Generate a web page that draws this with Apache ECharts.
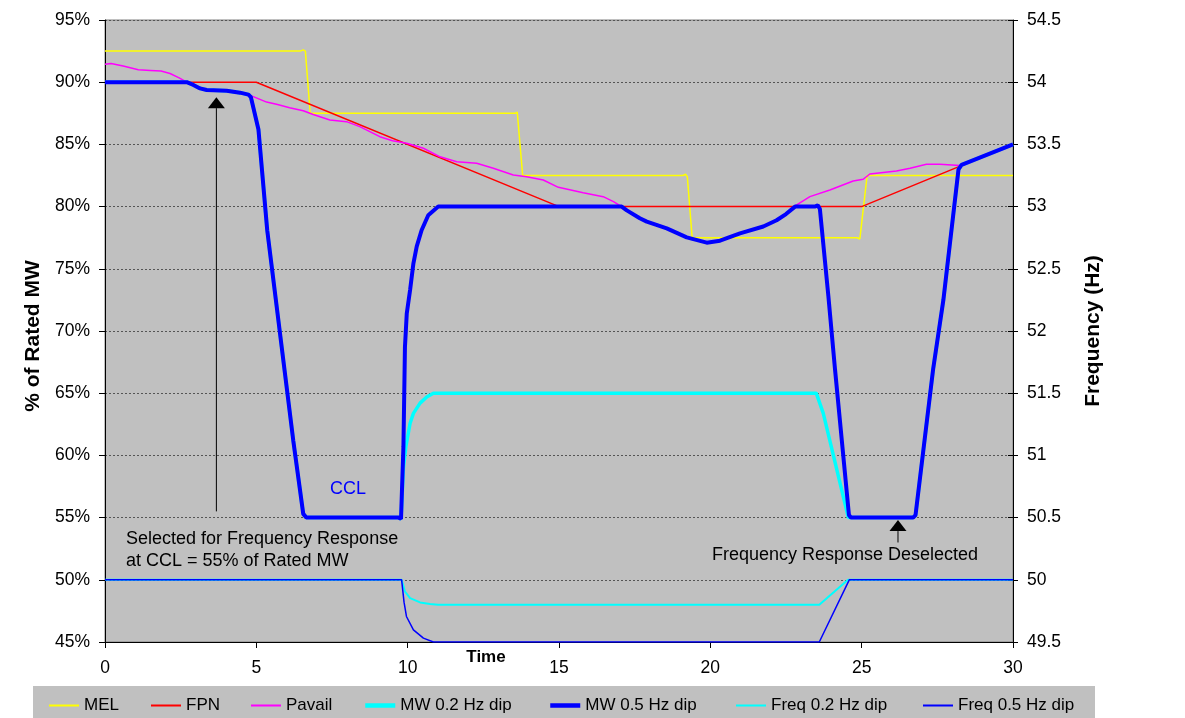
<!DOCTYPE html>
<html>
<head>
<meta charset="utf-8">
<script src="https://cdn.jsdelivr.net/npm/echarts@6/dist/echarts.min.js"></script>
<style>
  html, body { margin: 0; padding: 0; background: #ffffff; }
  #chart { width: 1185px; height: 718px; }
</style>
</head>
<body>
<div id="chart"></div>
<script>
// Unit response to a frequency event: output in % of rated MW (left axis),
// system frequency in Hz (right axis), against time.

const seriesNames = ['MEL', 'FPN', 'Pavail', 'MW 0.2 Hz dip', 'MW 0.5 Hz dip', 'Freq 0.2 Hz dip', 'Freq 0.5 Hz dip'];

const pctTicks = [45, 50, 55, 60, 65, 70, 75, 80, 85, 90, 95];
const hzTicks = [49.5, 50, 50.5, 51, 51.5, 52, 52.5, 53, 53.5, 54, 54.5];
const timeTicks = [0, 5, 10, 15, 20, 25, 30];

// [time, % of rated MW]
const mel = [
  [0, 92.5], [6.45, 92.5], [6.55, 92.6], [6.62, 92.5], [6.78, 87.5],
  [13.55, 87.5], [13.62, 87.6], [13.68, 87.5], [13.8, 82.5],
  [19.1, 82.5], [19.18, 82.6], [19.24, 82.4], [19.4, 77.5],
  [24.85, 77.5], [24.94, 77.4], [25.0, 77.5], [25.18, 82.5], [30, 82.5]
];

const fpn = [[0, 90], [5, 90], [15, 80], [25, 80], [30, 85]];

const pavail = [
  [0, 91.45], [0.2, 91.5], [0.6, 91.3], [1.1, 91.0], [1.5, 90.95], [1.85, 90.9],
  [2.15, 90.7], [2.45, 90.35], [2.7, 90.0], [2.92, 89.78], [3.14, 89.5], [3.36, 89.37],
  [4.02, 89.32], [4.46, 89.16], [4.74, 89.0], [4.9, 88.84], [5.34, 88.4], [5.7, 88.2],
  [6.1, 87.95], [6.55, 87.7], [6.88, 87.4], [7.43, 86.96], [7.98, 86.83], [8.42, 86.43],
  [9.08, 85.62], [9.5, 85.3], [9.97, 85.09], [10.52, 84.69], [11.07, 84.0], [11.62, 83.6],
  [12.28, 83.48], [12.83, 83.08], [13.49, 82.54], [13.93, 82.4], [14.48, 82.14],
  [14.98, 81.55], [15.8, 81.12], [16.46, 80.8], [16.8, 80.4], [17.07, 80.0],
  [17.24, 79.7], [17.67, 79.06], [17.9, 78.79], [18.56, 78.25], [19.22, 77.53],
  [19.88, 77.1], [20.32, 77.26], [20.98, 77.85], [21.75, 78.4], [22.19, 78.9],
  [22.5, 79.4], [22.8, 80.05], [23.29, 80.8], [23.95, 81.33], [24.72, 82.06],
  [25.05, 82.2], [25.27, 82.62], [26.15, 82.86], [26.6, 83.08], [27.14, 83.4],
  [27.58, 83.4], [28.25, 83.3], [30, 85]
];

const mw05 = [
  [0, 90], [2.7, 90], [2.92, 89.78], [3.14, 89.5], [3.36, 89.37], [4.02, 89.32],
  [4.46, 89.16], [4.74, 89.0], [4.82, 88.8], [5.07, 86.2], [5.36, 78.1], [6.22, 61.2],
  [6.55, 55.3], [6.65, 55.0], [9.7, 55.0], [9.78, 54.9], [9.86, 60.7], [9.91, 68.7],
  [9.97, 71.4], [10.08, 73.3], [10.19, 75.44], [10.3, 76.8], [10.46, 78.1], [10.68, 79.3],
  [11.01, 80.0], [17.07, 80.0], [17.24, 79.7], [17.67, 79.06], [17.9, 78.79],
  [18.56, 78.25], [19.22, 77.53], [19.88, 77.1], [20.32, 77.26], [20.98, 77.85],
  [21.75, 78.4], [22.19, 78.9], [22.5, 79.4], [22.8, 80.0], [23.45, 80.0], [23.55, 80.1],
  [23.62, 79.8], [23.9, 72.8], [24.12, 66.9], [24.58, 55.2], [24.65, 55.0], [26.7, 55.0],
  [26.78, 55.2], [27.36, 66.9], [27.7, 72.5], [28.2, 83.0], [28.3, 83.35], [30, 85]
];

const mw02 = [
  [0, 90], [2.7, 90], [2.92, 89.78], [3.14, 89.5], [3.36, 89.37], [4.02, 89.32],
  [4.46, 89.16], [4.74, 89.0], [4.82, 88.8], [5.07, 86.2], [5.36, 78.1], [6.22, 61.2],
  [6.55, 55.3], [6.65, 55.0], [9.7, 55.0], [9.78, 54.9], [9.86, 59.0], [9.94, 60.7],
  [10.08, 62.58], [10.19, 63.38], [10.41, 64.2], [10.63, 64.7], [10.85, 64.99],
  [11.0, 65.0], [23.5, 65.0], [23.55, 65.05], [23.73, 63.4], [24.56, 55.0], [26.7, 55.0],
  [26.78, 55.2], [27.36, 66.9], [27.7, 72.5], [28.2, 83.0], [28.3, 83.35], [30, 85]
];

// [time, Hz]
const freq02 = [
  [0, 50], [9.8, 50], [9.91, 49.906], [10.08, 49.853], [10.41, 49.818], [10.74, 49.805],
  [11.0, 49.8], [23.6, 49.8], [24.55, 50], [30, 50]
];

const freq05 = [
  [0, 50], [9.8, 50], [9.88, 49.82], [9.96, 49.705], [10.19, 49.598], [10.52, 49.531],
  [10.85, 49.5], [23.6, 49.5], [24.59, 50], [30, 50]
];

const FONT = "'Liberation Sans', Arial, sans-serif";

const chart = echarts.init(document.getElementById('chart'), null, { renderer: 'canvas' });

function lineSeries(name, data, color, width, yAxisIndex) {
  return {
    name: name,
    type: 'line',
    data: data,
    yAxisIndex: yAxisIndex,
    symbol: 'none',
    showSymbol: false,
    animation: false,
    lineStyle: { color: color, width: width },
    itemStyle: { color: color },
    emphasis: { disabled: true }
  };
}

// one legend entry per key so each sits at its own place in the band
const legendLeft = [48, 150, 250, 363, 548, 735, 922];
const legendLineWidth = [2, 2, 2, 4.5, 4.5, 2, 2];
const legends = seriesNames.map(function (n, i) {
  return {
    data: [n],
    left: legendLeft[i],
    top: 697,
    padding: 0,
    itemWidth: 30,
    itemHeight: 14,
    selectedMode: false,
    z: 5,
    itemStyle: { opacity: 0, borderWidth: 0 },
    lineStyle: { width: legendLineWidth[i] },
    textStyle: { fontFamily: FONT, fontSize: 17, color: '#000' }
  };
});

const option = {
  animation: false,
  backgroundColor: '#ffffff',
  textStyle: { fontFamily: FONT },
  grid: {
    left: 105, right: 172, top: 20, bottom: 76,
    show: true, backgroundColor: '#c0c0c0', borderColor: '#808080', borderWidth: 1
  },
  legend: legends,
  xAxis: {
    type: 'value',
    min: timeTicks[0], max: timeTicks[timeTicks.length - 1], interval: 5,
    axisLine: { show: true, onZero: false, lineStyle: { color: '#000', width: 1 } },
    axisTick: { show: true, length: 6, lineStyle: { color: '#000' } },
    splitLine: { show: false },
    axisLabel: { fontFamily: FONT, fontSize: 17.5, color: '#000', margin: 17 }
  },
  yAxis: [
    {
      type: 'value', position: 'left',
      min: pctTicks[0], max: pctTicks[pctTicks.length - 1], interval: 5,
      axisLine: { show: true, lineStyle: { color: '#000', width: 1 } },
      axisTick: { show: true, length: 6, lineStyle: { color: '#000' } },
      splitLine: { show: true, lineStyle: { color: '#555', width: 1, type: [2, 2] } },
      axisLabel: { fontFamily: FONT, fontSize: 17.5, color: '#000', margin: 15, formatter: '{value}%' }
    },
    {
      type: 'value', position: 'right', offset: 0,
      min: hzTicks[0], max: hzTicks[hzTicks.length - 1], interval: 0.5,
      axisLine: { show: true, lineStyle: { color: '#000', width: 1 } },
      axisTick: { show: true, length: 5, lineStyle: { color: '#000' } },
      splitLine: { show: false },
      axisLabel: { fontFamily: FONT, fontSize: 17.5, color: '#000', margin: 14 }
    },
    {
      // inner half of the right-hand cross ticks
      type: 'value', position: 'right', offset: 0,
      min: hzTicks[0], max: hzTicks[hzTicks.length - 1], interval: 0.5,
      axisLine: { show: false },
      axisTick: { show: true, inside: true, length: 5, lineStyle: { color: '#000' } },
      splitLine: { show: false },
      axisLabel: { show: false }
    }
  ],
  series: [
    lineSeries(seriesNames[0], mel, '#ffff00', 1.5, 0),
    lineSeries(seriesNames[1], fpn, '#ff0000', 1.5, 0),
    lineSeries(seriesNames[2], pavail, '#ff00ff', 1.5, 0),
    lineSeries(seriesNames[3], mw02, '#00ffff', 3.5, 0),
    lineSeries(seriesNames[4], mw05, '#0000ff', 4, 0),
    lineSeries(seriesNames[5], freq02, '#00ffff', 2, 1),
    lineSeries(seriesNames[6], freq05, '#0000ff', 1.5, 1)
  ]
};

chart.setOption(option);

// Annotations: arrows anchored in data space, labels and axis titles.
function px(t, v) {
  return chart.convertToPixel({ xAxisIndex: 0, yAxisIndex: 0 }, [t, v]);
}

function arrow(t, vTip, vTail) {
  const tip = px(t, vTip);
  const tail = px(t, vTail);
  const headH = 11, headW = 8.5;
  return [
    {
      type: 'line', z: 10, silent: true,
      shape: { x1: tip[0], y1: tip[1] + headH, x2: tail[0], y2: tail[1] },
      style: { stroke: '#000', lineWidth: 1 }
    },
    {
      type: 'polygon', z: 10, silent: true,
      shape: { points: [[tip[0], tip[1]], [tip[0] - headW, tip[1] + headH], [tip[0] + headW, tip[1] + headH]] },
      style: { fill: '#000' }
    }
  ];
}

function label(text, x, y, opts) {
  opts = opts || {};
  return {
    type: 'text', z: 10, silent: true,
    x: x, y: y,
    rotation: opts.rotation || 0,
    style: {
      text: text,
      fill: opts.color || '#000',
      font: (opts.weight || 'normal') + ' ' + (opts.size || 18) + 'px ' + FONT,
      align: opts.align || 'left',
      verticalAlign: 'middle',
      lineHeight: opts.lineHeight || 22
    }
  };
}

const graphics = [
  {
    type: 'rect', z: 0, silent: true,
    shape: { x: 33, y: 686, width: 1062, height: 40 },
    style: { fill: '#c0c0c0' }
  }
]
  .concat(arrow(3.68, 88.8, 55.5))
  .concat(arrow(26.2, 54.8, 53.0))
  .concat([
    label('CCL', 348, 489, { color: '#0000ff', align: 'center' }),
    label('Selected for Frequency Response', 126, 539),
    label('at CCL = 55% of Rated MW', 126, 561),
    label('Frequency Response Deselected', 845, 555, { align: 'center' }),
    label('Time', 486, 657, { align: 'center', weight: 'bold', size: 17 }),
    label('% of Rated MW', 33, 336, { align: 'center', weight: 'bold', size: 21, rotation: Math.PI / 2 }),
    label('Frequency (Hz)', 1093, 331, { align: 'center', weight: 'bold', size: 21, rotation: Math.PI / 2 })
  ]);

chart.setOption({ graphic: graphics });
</script>
</body>
</html>
